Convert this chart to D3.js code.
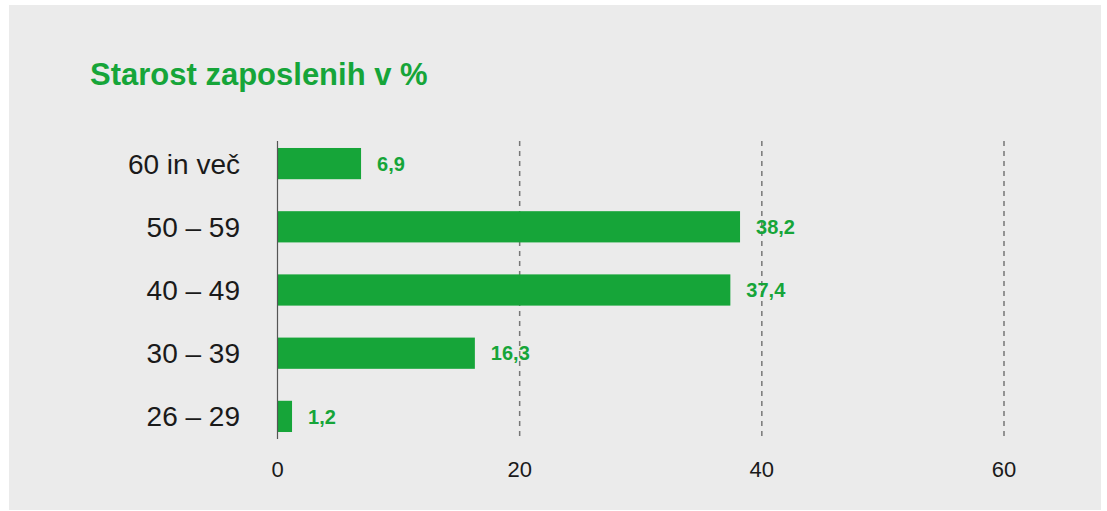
<!DOCTYPE html>
<html><head><meta charset="utf-8">
<script src="https://cdn.jsdelivr.net/npm/d3@7"></script>
<style>html,body{margin:0;padding:0;background:#fff;}svg{display:block;}</style>
</head><body>
<script>
const title = "Starost zaposlenih v %";
const categories = ["60 in več", "50 – 59", "40 – 49", "30 – 39", "26 – 29"];
const values = [6.9, 38.2, 37.4, 16.3, 1.2];
const valueLabels = ["6,9", "38,2", "37,4", "16,3", "1,2"];
const xTicks = [0, 20, 40, 60];

(function () {
const W = 1107, H = 511;
const green = "#16a539";
const svg = d3.select("body").append("svg").attr("width", W).attr("height", H);

svg.append("rect").attr("x", 9).attr("y", 5).attr("width", 1092).attr("height", 505).attr("fill", "#ebebeb");

svg.append("text").attr("x", 90).attr("y", 85).text(title)
  .attr("font-family", "'Liberation Sans', Arial, sans-serif").attr("font-weight", "bold")
  .attr("font-size", 31).attr("fill", green);

const x = d3.scaleLinear().domain([0, 60]).range([277.5, 1004]);
const y = d3.scaleBand().domain(categories).range([132, 448]).paddingInner(0.506).paddingOuter(0.253);
const plotTop = 141, plotBottom = 439;

// gridlines
svg.append("g").selectAll("line").data(xTicks.filter(d => d > 0)).join("line")
  .attr("x1", d => x(d)).attr("x2", d => x(d)).attr("y1", plotTop).attr("y2", plotBottom)
  .attr("stroke", "#777").attr("stroke-width", 1.5).attr("stroke-dasharray", "5,5");

// bars
svg.append("g").selectAll("rect").data(values).join("rect")
  .attr("x", x(0)).attr("y", (d, i) => y(categories[i]))
  .attr("width", d => x(d) - x(0)).attr("height", y.bandwidth()).attr("fill", green);

// axis line
svg.append("line").attr("x1", x(0)).attr("x2", x(0)).attr("y1", plotTop).attr("y2", plotBottom)
  .attr("stroke", "#555").attr("stroke-width", 1.2);

// value labels
svg.append("g").selectAll("text").data(values).join("text")
  .attr("x", d => x(d) + 16).attr("y", (d, i) => y(categories[i]) + y.bandwidth() / 2)
  .attr("dy", "0.36em").text((d, i) => valueLabels[i])
  .attr("font-family", "'Liberation Sans', Arial, sans-serif").attr("font-weight", "bold")
  .attr("font-size", 20).attr("fill", green);

// category labels
svg.append("g").selectAll("text").data(categories).join("text")
  .attr("x", 240).attr("y", d => y(d) + y.bandwidth() / 2).attr("dy", "0.36em")
  .attr("text-anchor", "end").text(d => d)
  .attr("font-family", "'Liberation Sans', Arial, sans-serif")
  .attr("font-size", 28).attr("fill", "#1a1a1a");

// x tick labels
svg.append("g").selectAll("text").data(xTicks).join("text")
  .attr("x", d => x(d)).attr("y", 477).attr("text-anchor", "middle").text(d => d)
  .attr("font-family", "'Liberation Sans', Arial, sans-serif")
  .attr("font-size", 22).attr("fill", "#1a1a1a");
})();
</script>
</body></html>
